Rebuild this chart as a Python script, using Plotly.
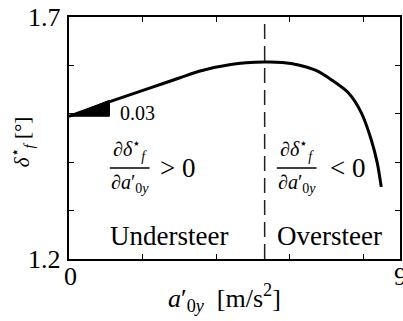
import plotly.graph_objects as go

# Steady-state steer angle vs. lateral acceleration
accel = [0.0, 1.11, 2.19, 3.0, 3.54, 4.4, 5.32, 5.8, 6.24, 6.7, 7.14, 7.6, 7.95, 8.22, 8.38, 8.49]
steer = [1.495, 1.525, 1.553, 1.574, 1.588, 1.602, 1.607, 1.606, 1.601, 1.590, 1.570, 1.543, 1.502, 1.446, 1.399, 1.349]

# Slope triangle at the origin
slope = 0.03
tri_run = 1.1
tri_y0 = steer[0]

# Transition from understeer to oversteer
a_switch = 5.32

x_range = [0, 9]
y_range = [1.2, 1.7]
x_ticks = [0, 2, 4, 6, 8]
y_ticks = [1.2, 1.3, 1.4, 1.5, 1.6, 1.7]

FONT = "Liberation Serif"

fig = go.Figure()

fig.add_trace(go.Scatter(
    x=[0, tri_run, tri_run, 0],
    y=[tri_y0, tri_y0, tri_y0 + slope * tri_run, tri_y0],
    mode="lines", fill="toself", fillcolor="black",
    line=dict(color="black", width=1), hoverinfo="skip", showlegend=False))

fig.add_trace(go.Scatter(
    x=accel, y=steer, mode="lines",
    line=dict(color="black", width=3, shape="spline", smoothing=0.8),
    showlegend=False))

fig.add_trace(go.Scatter(
    x=[a_switch, a_switch], y=y_range, mode="lines",
    line=dict(color="#222222", width=1.5, dash="15px,7px"),
    showlegend=False))

# fraction bars
for xb in ([1.11, 2.19], [5.65, 6.73]):
    fig.add_trace(go.Scatter(
        x=xb, y=[1.388, 1.388], mode="lines",
        line=dict(color="black", width=1.5), showlegend=False))


def px(x):
    return (x - x_range[0]) / (x_range[1] - x_range[0])


def py(y):
    return (y - y_range[0]) / (y_range[1] - y_range[0])


ann = []
def txt(x, y, s, size, xanchor="center", yanchor="middle", angle=0):
    ann.append(dict(x=px(x), y=py(y), xref="paper", yref="paper", text=s,
                    showarrow=False, xanchor=xanchor, yanchor=yanchor,
                    textangle=angle,
                    font=dict(family=FONT, size=size, color="black")))

# tick labels
txt(-0.16, 1.698, "1.7", 26, xanchor="right")
txt(-0.16, 1.198, "1.2", 26, xanchor="right")
txt(0.05, 1.163, "0", 26)
txt(9.0, 1.163, "9", 26)

# axis titles
txt(4.24, 1.119, "<i>a</i>′<sub>0<i>y</i></sub>  [m/s<sup>2</sup>]", 26)
txt(-1.27, 1.442, "<i>δ</i><sup>⋆</sup><sub><i>f</i></sub> [°]", 21, angle=-90)

# annotations inside the axes
txt(1.32, 1.502, "0.03", 20, xanchor="left")
txt(2.73, 1.248, "Understeer", 27)
txt(7.08, 1.248, "Oversteer", 27)

num = "∂<i>δ</i><sup>⋆</sup><sub><i>f</i></sub>"
den = "∂<i>a</i>′<sub>0<i>y</i></sub>"
txt(1.65, 1.425, num, 20)
txt(1.65, 1.355, den, 20)
txt(2.95, 1.388, "> 0", 27)
txt(6.19, 1.425, num, 20)
txt(6.19, 1.355, den, 20)
txt(7.57, 1.388, "< 0", 27)

fig.update_layout(
    width=403, height=321,
    margin=dict(l=69, r=1, t=17, b=62),
    plot_bgcolor="white", paper_bgcolor="white",
    font=dict(family=FONT),
    annotations=ann,
    xaxis=dict(range=x_range, tickvals=x_ticks, showticklabels=False,
               ticks="inside", ticklen=5, tickwidth=1, tickcolor="black",
               showline=True, linecolor="black", linewidth=2, mirror="ticks",
               showgrid=False, zeroline=False),
    yaxis=dict(range=y_range, tickvals=y_ticks, showticklabels=False,
               ticks="inside", ticklen=5, tickwidth=1, tickcolor="black",
               showline=True, linecolor="black", linewidth=2, mirror="ticks",
               showgrid=False, zeroline=False),
)

fig.write_html("out.html")
